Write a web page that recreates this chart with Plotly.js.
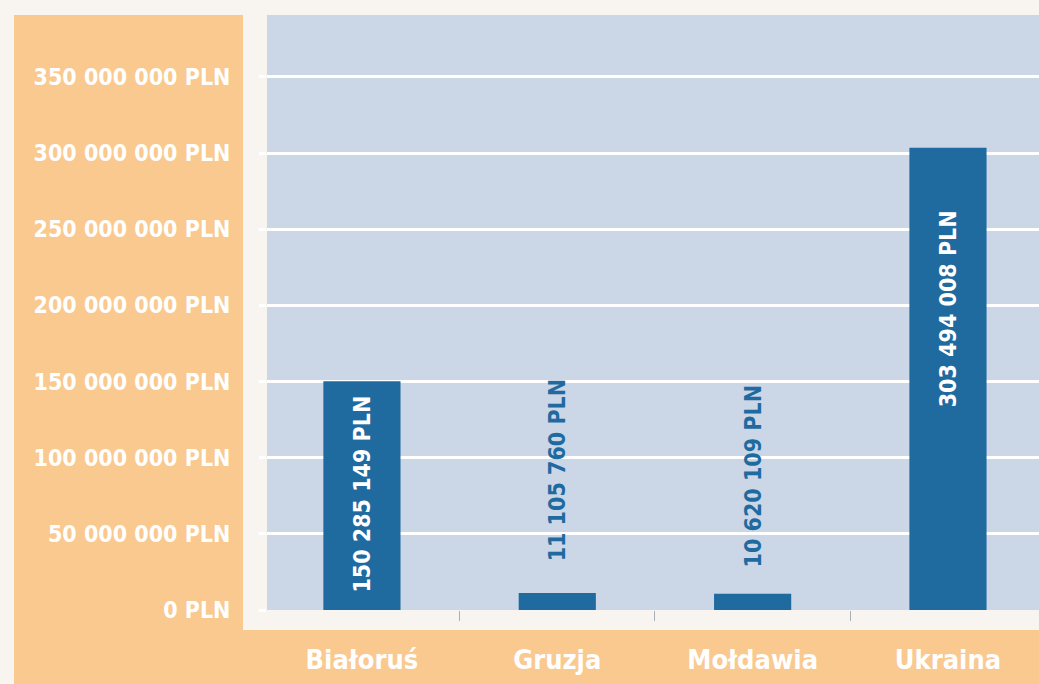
<!DOCTYPE html>
<html>
<head>
<meta charset="utf-8">
<script src="https://cdn.plot.ly/plotly-3.0.1.min.js"></script>
<style>
  html, body { margin: 0; padding: 0; background: #f8f4ef; }
  #chart { width: 1039px; height: 684px; }
</style>
</head>
<body>
<div id="chart"></div>
<script>
// ---- data ----
const countries = ['Białoruś', 'Gruzja', 'Mołdawia', 'Ukraina'];
const amounts = [150285149, 11105760, 10620109, 303494008];
const yTickVals = [0, 50000000, 100000000, 150000000, 200000000, 250000000, 300000000, 350000000];
const yTickText = ['0 PLN', '50 000 000 PLN', '100 000 000 PLN', '150 000 000 PLN',
                   '200 000 000 PLN', '250 000 000 PLN', '300 000 000 PLN', '350 000 000 PLN'];

// ---- styling ----
const FONT = 'DejaVu Sans Condensed, Liberation Sans Narrow, sans-serif';
const BAR = '#1f6a9f';
const ORANGE = '#f9c98f';
const PAGE = '#f8f4ef';
const PLOTBG = '#cbd6e6';

function fmt(v) {
  return String(v).replace(/\B(?=(\d{3})+(?!\d))/g, ' ') + ' PLN';
}

// label placement per bar: inside (white) or above (blue), with pixel offset
const labelStyle = [
  {inside: true, shift: -12},
  {inside: false, shift: 30},
  {inside: false, shift: 24},
  {inside: true, shift: -60}
];

const annotations = countries.map((c, i) => ({
  x: c, y: amounts[i], xref: 'x', yref: 'y',
  text: '<b>' + fmt(amounts[i]) + '</b>',
  textangle: -90, showarrow: false,
  xanchor: 'center',
  yanchor: labelStyle[i].inside ? 'top' : 'bottom',
  yshift: labelStyle[i].shift,
  font: {family: FONT, size: 23, color: labelStyle[i].inside ? '#ffffff' : BAR}
}));

const trace = {
  type: 'bar',
  x: countries,
  y: amounts,
  width: 0.395,
  marker: {color: BAR, line: {width: 0}},
  hoverinfo: 'x+y'
};

const layout = {
  width: 1039, height: 684,
  margin: {l: 267, r: 0, t: 15, b: 74, pad: 0},
  paper_bgcolor: PAGE,
  plot_bgcolor: PLOTBG,
  showlegend: false,
  xaxis: {
    type: 'category',
    range: [-0.486, 3.466],
    tickson: 'boundaries',
    ticks: 'outside', ticklen: 10, tickwidth: 1, tickcolor: '#a9b0b8',
    showgrid: false, zeroline: false, showline: false,
    ticklabelstandoff: 31,
    tickfont: {family: FONT, size: 27, color: '#ffffff', weight: 'bold'},
    fixedrange: true
  },
  yaxis: {
    range: [0, 390700000],
    tickvals: yTickVals,
    ticktext: yTickText,
    showgrid: true, gridcolor: '#ffffff', gridwidth: 3,
    zeroline: false, showline: false,
    ticks: 'outside', ticklen: 7, tickwidth: 3, tickcolor: '#ffffff',
    ticklabelstandoff: 24,
    tickfont: {family: FONT, size: 23, color: '#ffffff', weight: 'bold'},
    fixedrange: true
  },
  shapes: [
    // left orange panel
    {type: 'rect', xref: 'paper', yref: 'paper', layer: 'below',
     x0: (14 - 267) / 772, x1: (243 - 267) / 772, y0: -74 / 595, y1: 1,
     fillcolor: ORANGE, line: {width: 0}},
    // bottom orange band
    {type: 'rect', xref: 'paper', yref: 'paper', layer: 'below',
     x0: (14 - 267) / 772, x1: 1, y0: -74 / 595, y1: -20 / 595,
     fillcolor: ORANGE, line: {width: 0}}
  ],
  annotations: annotations
};

Plotly.newPlot('chart', [trace], layout, {displayModeBar: false, staticPlot: true});
</script>
</body>
</html>
